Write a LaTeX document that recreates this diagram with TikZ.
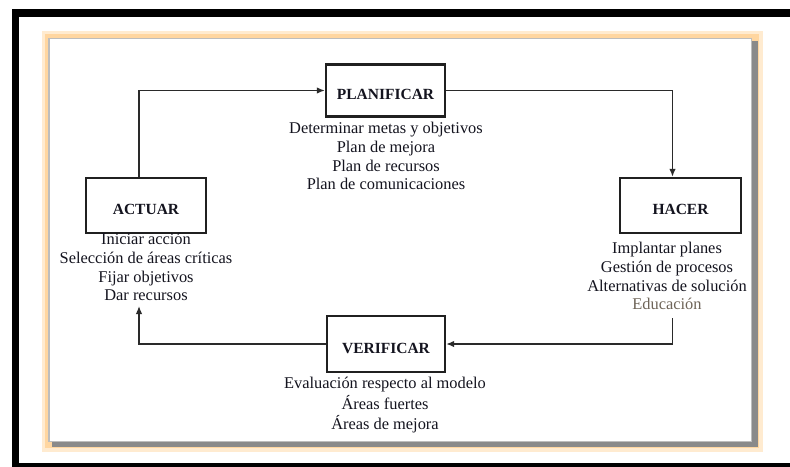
\documentclass[tikz,border=0pt]{standalone}
\usepackage{fontspec}
\setmainfont{Liberation Serif}
\usetikzlibrary{arrows.meta}
\definecolor{boxc}{HTML}{202020}
\definecolor{linec}{HTML}{2A2A2A}
\definecolor{txt}{HTML}{14141F}
\definecolor{edu}{HTML}{6E6458}
\definecolor{glowA}{HTML}{FFEBD0}
\definecolor{glowB}{HTML}{FFD6A0}
\definecolor{frameL}{HTML}{BDBDBD}
\definecolor{frameD}{HTML}{8A8A8A}
\begin{document}
\begin{tikzpicture}[x=1pt,y=-1pt,
  stagebox/.style={draw=boxc,line width=2.4pt,fill=white,inner sep=0pt,
    font=\fontsize{15.5}{18}\selectfont\bfseries,text=txt,text height=18pt,text depth=0pt},
  desc/.style={align=center,font=\fontsize{16.4}{18.6}\selectfont,text=txt,inner sep=0pt},
  conn/.style={draw=linec,line width=1.4pt,-{Latex[length=8pt,width=6.5pt]}}]
\useasboundingbox (0,0) rectangle (790,466);
\clip (0,0) rectangle (790,466);
\fill[white] (0,0) rectangle (790,466);
% outer black frame
\draw[black,line width=7.5pt] (15.5,13) rectangle (810,467);
% orange glow and inner frame
\draw[glowA,line width=15pt] (49,38) rectangle (755,444);
\draw[glowB,line width=8pt] (49,38) rectangle (755,444);
\fill[frameD] (52,41) rectangle (758,446.5);
\fill[white] (49,38) rectangle (752,442);
\draw[frameL,line width=1.6pt] (49,441.5) -- (49,38.5) -- (751.5,38.5) -- (751.5,441.5) -- cycle;
% stage boxes
\node[stagebox,minimum width=119pt,minimum height=52pt] (plan) at (385.5,90.5) {PLANIFICAR};
\node[stagebox,minimum width=120pt,minimum height=55pt] (actuar) at (146,205.5) {ACTUAR};
\node[stagebox,minimum width=121pt,minimum height=55pt] (hacer) at (680.5,205.5) {HACER};
\node[stagebox,minimum width=118pt,minimum height=56pt] (verif) at (386,344) {VERIFICAR};
% descriptions
\node[desc] (plantxt) at (386,158) {\strut Determinar metas y objetivos\\\strut Plan de mejora\\\strut Plan de recursos\\\strut Plan de comunicaciones};
\node[desc] (actuartxt) at (146,269) {\strut Iniciar acción\\\strut Selección de áreas críticas\\\strut Fijar objetivos\\\strut Dar recursos};
\node[desc] (hacertxt) at (667,278) {\strut Implantar planes\\\strut Gestión de procesos\\\strut Alternativas de solución\\\strut{\color{edu}Educación}};
\node[desc] (veriftxt) at (385,405.5) {\strut Evaluación respecto al modelo\\\strut Áreas fuertes\\\strut Áreas de mejora};
% connector ends
\coordinate (hb) at (672.5,318);
\coordinate (at) at (139,306);
% connectors
\draw[conn] ([xshift=-7pt]actuar.north) |- (plan.west);
\draw[conn] (plan.east) -| ([xshift=-8pt]hacer.north);
\draw[conn] (hb) |- (verif.east);
\draw[conn] (verif.west) -| (at);
\end{tikzpicture}
\end{document}
